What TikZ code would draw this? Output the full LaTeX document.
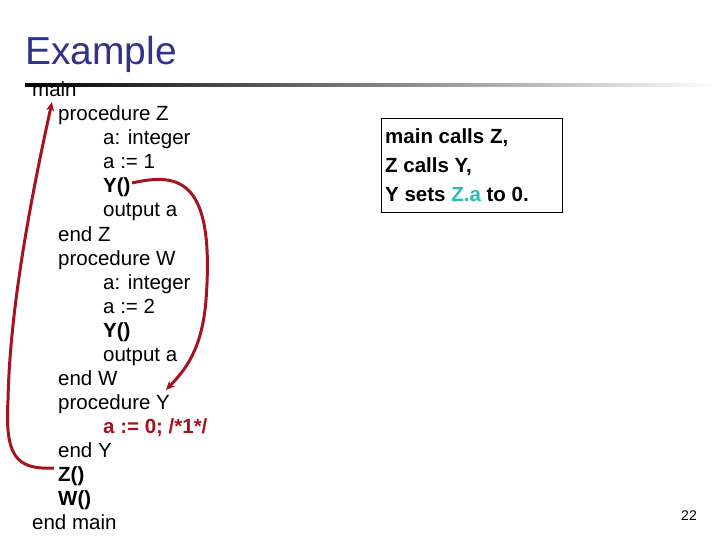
\documentclass[tikz,border=0pt]{standalone}
\usepackage{fontspec}
\setmainfont{Liberation Sans}
\usetikzlibrary{arrows.meta}
\definecolor{ttl}{RGB}{50,50,140}
\definecolor{arr}{RGB}{165,20,30}
\definecolor{teal2}{RGB}{40,190,180}
\begin{document}
\begin{tikzpicture}[x=1pt,y=-1pt,
  code/.style={anchor=base west,inner sep=0pt,font=\fontsize{20.5}{20}\selectfont},
  bcode/.style={code,font=\fontsize{20.5}{20}\selectfont\bfseries},
  call/.style={draw=arr,line width=3pt,-{Stealth[length=9pt,width=8pt]}}]
\useasboundingbox (0,0) rectangle (720,540);
\node[anchor=base west,inner sep=0pt,text=ttl,font=\fontsize{39}{39}\selectfont] (title) at (25,65) {Example};
\shade[left color=black,right color=white] (25,84) rectangle (720,87);
\node[code] (l1) at (32,97) {main};
\node[code] (l2) at (58,121) {procedure Z};
\node[code] (l3) at (103,145) {a: integer};
\node[code] (l4) at (103,169) {a := 1};
\node[bcode] (l5) at (103,193) {Y()};
\node[code] (l6) at (103,217) {output a};
\node[code] (l7) at (58,241) {end Z};
\node[code] (l8) at (58,265) {procedure W};
\node[code] (l9) at (103,289) {a: integer};
\node[code] (l10) at (103,313) {a := 2};
\node[bcode] (l11) at (103,337) {Y()};
\node[code] (l12) at (103,361) {output a};
\node[code] (l13) at (58,385) {end W};
\node[code] (l14) at (58,409) {procedure Y};
\node[bcode,text=arr] (l15) at (103,433) {a := 0; /*1*/};
\node[code] (l16) at (58,457) {end Y};
\node[bcode] (l17) at (58,481) {Z()};
\node[bcode] (l18) at (58,505) {W()};
\node[code] (l19) at (32,529) {end main};
\node[draw,line width=0.8pt,anchor=north west,minimum width=181pt,minimum height=94pt,inner sep=0pt] (box) at (381,118) {};
\node[bcode] (t1) at (385,144) {main calls Z,};
\node[bcode] (t2) at (385,173) {Z calls Y,};
\node[bcode] (t3) at (385,202) {Y sets {\color{teal2}Z.a} to 0.};
\node[font=\fontsize{14}{14}\selectfont] (pg) at (689,516) {22};
\coordinate (zs) at (54,468);
\coordinate (zt) at (52,102);
\draw[call] (zs) .. controls (15,470) and (5,455) .. (8,400) .. controls (10,300) and (35,180) .. (zt);
\coordinate (ys) at (132,183);
\coordinate (yt) at (166,390);
\draw[call] (ys) .. controls (180,172) and (215,180) .. (206,300) .. controls (202,350) and (185,370) .. (yt);
\end{tikzpicture}
\end{document}
